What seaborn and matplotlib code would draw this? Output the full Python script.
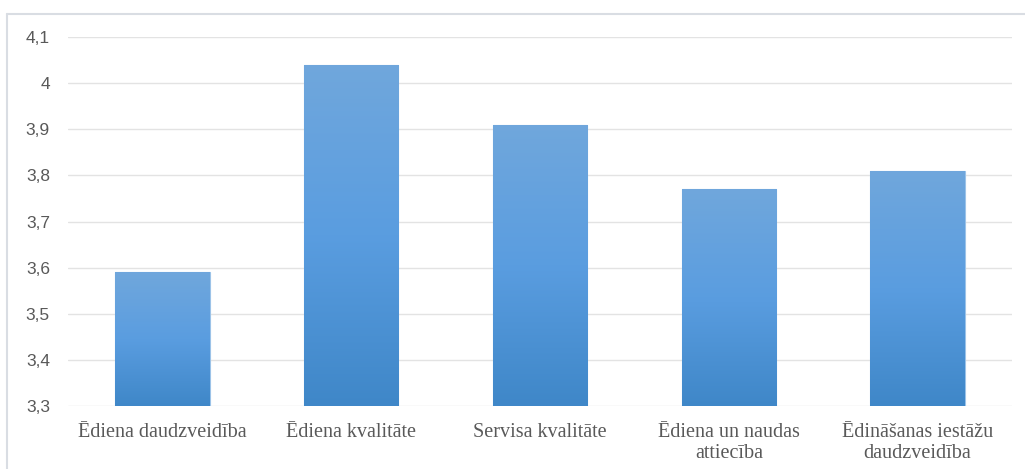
import numpy as np
import pandas as pd
import matplotlib
matplotlib.use("Agg")
import matplotlib.pyplot as plt
from matplotlib.colors import LinearSegmentedColormap
from matplotlib.lines import Line2D
import seaborn as sns

categories = [
    "Ēdiena daudzveidība",
    "Ēdiena kvalitāte",
    "Servisa kvalitāte",
    "Ēdiena un naudas\nattiecība",
    "Ēdināšanas iestāžu\ndaudzveidība",
]
scores = [3.59, 4.04, 3.91, 3.77, 3.81]
y_ticks = [3.3, 3.4, 3.5, 3.6, 3.7, 3.8, 3.9, 4.0, 4.1]
y_tick_labels = ["3,3", "3,4", "3,5", "3,6", "3,7", "3,8", "3,9", "4", "4,1"]

df = pd.DataFrame({"category": categories, "score": scores})

sns.set_theme(style="white")
plt.rcParams["font.family"] = ["Liberation Sans", "DejaVu Sans"]

W, H = 1025, 469
fig = plt.figure(figsize=(W / 100, H / 100), dpi=100)
ax = fig.add_axes([68 / W, 1 - 406 / H, (1012 - 68) / W, (406 - 37) / H])

sns.barplot(data=df, x="category", y="score", ax=ax, width=0.5,
            color="#5b9bd5", saturation=1, edgecolor="#9cc3e8", linewidth=0.8)

# vertical gradient inside each bar
cmap = LinearSegmentedColormap.from_list("bar", ["#3f87c8", "#5a9de0", "#70a7dc"])
grad = np.linspace(0, 1, 256).reshape(-1, 1)
for patch in ax.patches:
    x0, y0 = patch.get_x(), patch.get_y()
    w, h = patch.get_width(), patch.get_height()
    y_bot = max(y0, 3.3)
    im = ax.imshow(grad, cmap=cmap, aspect="auto", origin="lower",
                   extent=[x0, x0 + w, y_bot, y0 + h], zorder=patch.get_zorder() + 0.1)
    im.set_clip_path(patch)
ax.set_xlim(-0.5, len(categories) - 0.5)
ax.set_ylim(3.3, 4.1)

ax.set_yticks(y_ticks)
ax.set_yticklabels(y_tick_labels, color="#595959", fontsize=12.5)
ax.grid(axis="y", color="#e3e3e3", linewidth=1)
ax.set_axisbelow(True)
ax.tick_params(axis="both", length=0)
ax.tick_params(axis="y", pad=13)
ax.tick_params(axis="x", pad=12)
for lbl in ax.get_xticklabels():
    lbl.set_fontfamily(["Liberation Serif", "DejaVu Serif"])
    lbl.set_fontsize(14.5)
    lbl.set_color("#595959")
    lbl.set_linespacing(1.2)
ax.set_xlabel("")
ax.set_ylabel("")
for s in ax.spines.values():
    s.set_visible(False)

# chart frame (top and left edges)
fig.add_artist(Line2D([7 / W, 7 / W], [0, 1 - 14 / H], transform=fig.transFigure,
                      color="#d9dde3", linewidth=1.5))
fig.add_artist(Line2D([7 / W, 1], [1 - 14 / H, 1 - 14 / H], transform=fig.transFigure,
                      color="#d9dde3", linewidth=1.5))

fig.savefig("out.png", dpi=100, facecolor="white")
